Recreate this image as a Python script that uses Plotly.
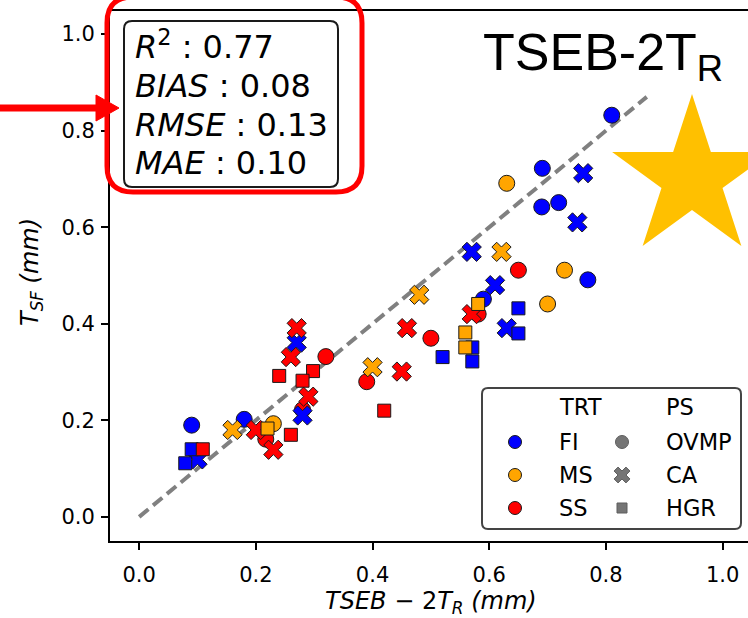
import plotly.graph_objects as go
import math

# ---------------- data ----------------
# FI (blue)
fi_ovmp_x = [0.090, 0.180, 0.590, 0.769, 0.810, 0.691, 0.690, 0.719]
fi_ovmp_y = [0.190, 0.202, 0.451, 0.491, 0.832, 0.722, 0.642, 0.651]
fi_ca_x = [0.100, 0.270, 0.280, 0.570, 0.751, 0.761, 0.610, 0.630]
fi_ca_y = [0.119, 0.361, 0.210, 0.549, 0.610, 0.712, 0.480, 0.391]
fi_hgr_x = [0.090, 0.079, 0.520, 0.571, 0.571, 0.650, 0.650]
fi_hgr_y = [0.140, 0.111, 0.331, 0.351, 0.322, 0.432, 0.380]
# MS (orange)
ms_ovmp_x = [0.230, 0.630, 0.729, 0.700]
ms_ovmp_y = [0.193, 0.691, 0.511, 0.441]
ms_ca_x = [0.160, 0.400, 0.480, 0.621]
ms_ca_y = [0.180, 0.310, 0.460, 0.549]
ms_hgr_x = [0.220, 0.559, 0.559, 0.581]
ms_hgr_y = [0.183, 0.382, 0.351, 0.441]
# SS (red)
ss_ovmp_x = [0.217, 0.280, 0.320, 0.390, 0.500, 0.650, 0.581]
ss_ovmp_y = [0.161, 0.222, 0.332, 0.280, 0.370, 0.511, 0.420]
ss_ca_x = [0.200, 0.230, 0.270, 0.260, 0.290, 0.459, 0.450, 0.570]
ss_ca_y = [0.180, 0.139, 0.391, 0.331, 0.249, 0.391, 0.301, 0.420]
ss_hgr_x = [0.109, 0.260, 0.240, 0.298, 0.280, 0.420]
ss_hgr_y = [0.140, 0.170, 0.292, 0.302, 0.282, 0.220]

one_to_one = [0.0, 0.87]

trt_labels = ["FI", "MS", "SS"]
trt_colors = ["#0000ff", "#ffa500", "#ff0000"]
ps_labels = ["OVMP", "CA", "HGR"]
stats_names = ["R", "BIAS", "RMSE", "MAE"]
stats_values = ["0.77", "0.08", "0.13", "0.10"]
tick_vals = [0.0, 0.2, 0.4, 0.6, 0.8, 1.0]
tick_text = ["0.0", "0.2", "0.4", "0.6", "0.8", "1.0"]

# ---------------- layout helpers ----------------
W, H = 748, 618
X0PX, X1PX, Y0PX, Y1PX = 110, 748, 10, 541


def px(x):
    return (x - X0PX) / (X1PX - X0PX)


def py(y):
    return (Y1PX - y) / (Y1PX - Y0PX)


def rrect(x0, y0, x1, y1, r):
    pts = []
    pts.append(f"M {px(x0 + r)},{py(y0)}")
    pts.append(f"L {px(x1 - r)},{py(y0)}")
    pts.append(f"Q {px(x1)},{py(y0)} {px(x1)},{py(y0 + r)}")
    pts.append(f"L {px(x1)},{py(y1 - r)}")
    pts.append(f"Q {px(x1)},{py(y1)} {px(x1 - r)},{py(y1)}")
    pts.append(f"L {px(x0 + r)},{py(y1)}")
    pts.append(f"Q {px(x0)},{py(y1)} {px(x0)},{py(y1 - r)}")
    pts.append(f"L {px(x0)},{py(y0 + r)}")
    pts.append(f"Q {px(x0)},{py(y0)} {px(x0 + r)},{py(y0)} Z")
    return " ".join(pts)


fig = go.Figure()

# 1:1 line
fig.add_trace(go.Scatter(x=one_to_one, y=one_to_one, mode="lines",
                         line=dict(color="#808080", width=4, dash="12px,6px"),
                         showlegend=False, hoverinfo="skip"))

series = [
    (fi_ovmp_x, fi_ovmp_y, 0, "circle", 16),
    (ms_ovmp_x, ms_ovmp_y, 1, "circle", 16),
    (ss_ovmp_x, ss_ovmp_y, 2, "circle", 16),
    (fi_ca_x, fi_ca_y, 0, "x", 17),
    (ms_ca_x, ms_ca_y, 1, "x", 17),
    (ss_ca_x, ss_ca_y, 2, "x", 17),
    (fi_hgr_x, fi_hgr_y, 0, "square", 13),
    (ms_hgr_x, ms_hgr_y, 1, "square", 13),
    (ss_hgr_x, ss_hgr_y, 2, "square", 13),
]
for xs, ys, ci, sym, sz in series:
    fig.add_trace(go.Scatter(x=xs, y=ys, mode="markers",
                             marker=dict(color=trt_colors[ci], symbol=sym, size=sz,
                                         line=dict(color="#1a1a1a", width=1)),
                             showlegend=False, hoverinfo="skip"))

# ---------------- manual legend (pixel overlay axes) ----------------
leg_rows_y = [442, 475, 508]
col1_marker_x, col1_text_x = 515, 557
col2_marker_x, col2_text_x = 622, 664
fig.add_trace(go.Scatter(x=[col1_marker_x] * 3, y=leg_rows_y, mode="markers",
                         xaxis="x2", yaxis="y2",
                         marker=dict(color=trt_colors, symbol="circle", size=13,
                                     line=dict(color="#1a1a1a", width=1)),
                         showlegend=False, hoverinfo="skip", cliponaxis=False))
fig.add_trace(go.Scatter(x=[col2_marker_x] * 3, y=leg_rows_y, mode="markers",
                         xaxis="x2", yaxis="y2",
                         marker=dict(color="#3c3c3c", symbol=["circle", "x", "square"],
                                     size=[13, 14, 10],
                                     line=dict(color="#1a1a1a", width=1)),
                         showlegend=False, hoverinfo="skip", cliponaxis=False))

shapes = []
annotations = []

# legend frame
shapes.append(dict(type="path", xref="paper", yref="paper", path=rrect(482, 388, 741, 529, 6),
                   line=dict(color="#444444", width=2), fillcolor="rgba(255,255,255,0.85)",
                   layer="below"))
leg_font = dict(family="DejaVu Sans", size=22.5, color="black")
annotations.append(dict(x=px(col1_text_x), y=py(407), xref="paper", yref="paper", text="TRT",
                        showarrow=False, xanchor="left", yanchor="middle", font=leg_font))
annotations.append(dict(x=px(col2_text_x), y=py(407), xref="paper", yref="paper", text="PS",
                        showarrow=False, xanchor="left", yanchor="middle", font=leg_font))
for i in range(3):
    annotations.append(dict(x=px(col1_text_x), y=py(leg_rows_y[i]), xref="paper", yref="paper",
                            text=trt_labels[i], showarrow=False, xanchor="left",
                            yanchor="middle", font=leg_font))
    annotations.append(dict(x=px(col2_text_x), y=py(leg_rows_y[i]), xref="paper", yref="paper",
                            text=ps_labels[i], showarrow=False, xanchor="left",
                            yanchor="middle", font=leg_font))

# top spine
shapes.append(dict(type="line", xref="paper", yref="paper", x0=0, x1=1, y0=1, y1=1,
                   line=dict(color="black", width=2)))

# stats box
shapes.append(dict(type="path", xref="paper", yref="paper", path=rrect(124, 21, 338, 187, 8),
                   line=dict(color="#1a1a1a", width=2), fillcolor="rgba(255,255,255,0.85)"))
stat_y = [45, 86, 125, 163]
stat_font = dict(family="DejaVu Sans", size=32, color="black")
for i, (n, v) in enumerate(zip(stats_names, stats_values)):
    if n == "R":
        txt = f"<i>R</i><sup>2</sup> : {v}"
    else:
        txt = f"<i>{n}</i> : {v}"
    annotations.append(dict(x=px(133), y=py(stat_y[i]), xref="paper", yref="paper", text=txt,
                            showarrow=False, xanchor="left", yanchor="middle", font=stat_font))

# red highlight box + arrow
shapes.append(dict(type="path", xref="paper", yref="paper", path=rrect(107, -3, 362, 192, 26),
                   line=dict(color="#ff0000", width=5)))
shapes.append(dict(type="line", xref="paper", yref="paper", x0=px(-5), x1=px(100),
                   y0=py(108), y1=py(108), line=dict(color="#ff0000", width=7)))
shapes.append(dict(type="path", xref="paper", yref="paper",
                   path=f"M {px(96)},{py(95)} L {px(119)},{py(108)} L {px(96)},{py(121)} Z",
                   fillcolor="#ff0000", line=dict(color="#ff0000", width=1)))

# star
cx, cy, Ro, Ri = 692, 178, 84, 32.1
star_pts = []
for k in range(10):
    ang = math.radians(-90 + 36 * k)
    rr = Ro if k % 2 == 0 else Ri
    star_pts.append((cx + rr * math.cos(ang), cy + rr * math.sin(ang)))
star_path = "M " + " L ".join(f"{px(a)},{py(b)}" for a, b in star_pts) + " Z"
shapes.append(dict(type="path", xref="paper", yref="paper", path=star_path,
                   fillcolor="#ffc000", line=dict(color="#ffc000", width=0)))

# title
annotations.append(dict(x=px(481), y=py(56), xref="paper", yref="paper",
                        text="TSEB-2T<sub>R</sub>", showarrow=False, xanchor="left",
                        yanchor="middle",
                        font=dict(family="Liberation Sans", size=52, color="black")))

# axis titles
annotations.append(dict(x=px(431), y=py(603), xref="paper", yref="paper",
                        text="<i>TSEB</i> − 2<i>T</i><sub><i>R</i></sub> <i>(mm)</i>",
                        showarrow=False, xanchor="center", yanchor="middle",
                        font=dict(family="DejaVu Sans", size=24, color="black")))
annotations.append(dict(x=px(31), y=py(272), xref="paper", yref="paper",
                        text="<i>T</i><sub><i>SF</i></sub> <i>(mm)</i>",
                        showarrow=False, xanchor="center", yanchor="middle", textangle=-90,
                        font=dict(family="DejaVu Sans", size=24, color="black")))

axis_common = dict(showline=True, linecolor="black", linewidth=2, ticks="outside",
                   ticklen=7, tickwidth=2, tickcolor="black", showgrid=False, zeroline=False,
                   tickvals=tick_vals, ticktext=tick_text,
                   tickfont=dict(family="DejaVu Sans", size=21, color="black"))

fig.update_layout(
    width=W, height=H,
    margin=dict(l=X0PX, r=W - X1PX, t=Y0PX, b=H - Y1PX),
    paper_bgcolor="white", plot_bgcolor="white",
    xaxis=dict(range=[-0.05, 1.0435], ticklabelstandoff=7, **axis_common),
    yaxis=dict(range=[-0.05, 1.05], ticklabelstandoff=2, **axis_common),
    xaxis2=dict(range=[X0PX, X1PX], overlaying="x", visible=False, fixedrange=True),
    yaxis2=dict(range=[Y1PX, Y0PX], overlaying="y", visible=False, fixedrange=True),
    shapes=shapes,
    annotations=annotations,
    showlegend=False,
)

fig.write_html("out.html")
